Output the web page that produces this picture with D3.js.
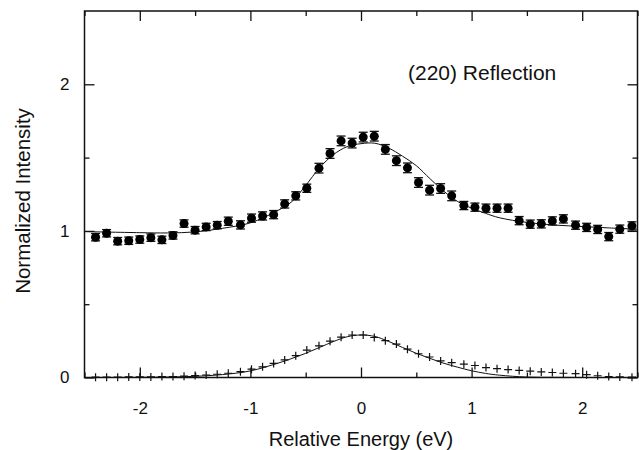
<!DOCTYPE html>
<html>
<head>
<meta charset="utf-8">
<script src="https://cdn.jsdelivr.net/npm/d3@7"></script>
<style>
  body { margin: 0; background: #fff; }
  text { font-family: "Liberation Sans", Arial, Helvetica, sans-serif; fill: #111; }
</style>
</head>
<body>
<svg id="graph"></svg>
<script>
var svg = d3.select("#graph");
var width = 639;
var height = 450;
svg.attr("width", width).attr("height", height);

// measured spectrum (filled circles), relative energy in eV
var energy = [-2.40, -2.30, -2.20, -2.10, -2.00, -1.90, -1.80, -1.70, -1.60, -1.50,
  -1.40, -1.30, -1.20, -1.09, -0.99, -0.89, -0.79, -0.69, -0.59, -0.49,
  -0.38, -0.28, -0.18, -0.08, 0.02, 0.12, 0.22, 0.32, 0.42, 0.52,
  0.62, 0.72, 0.82, 0.93, 1.03, 1.13, 1.23, 1.33, 1.43, 1.53,
  1.63, 1.73, 1.83, 1.94, 2.04, 2.14, 2.24, 2.34, 2.45];
var intensity = [0.957, 0.984, 0.930, 0.933, 0.941, 0.954, 0.939, 0.969, 1.050, 1.005,
  1.027, 1.039, 1.066, 1.041, 1.087, 1.102, 1.111, 1.184, 1.239, 1.291,
  1.428, 1.528, 1.614, 1.599, 1.640, 1.646, 1.556, 1.479, 1.430, 1.330,
  1.278, 1.289, 1.239, 1.173, 1.162, 1.155, 1.155, 1.155, 1.070, 1.046,
  1.048, 1.068, 1.082, 1.039, 1.024, 1.010, 0.961, 1.012, 1.034];
var errors = [0.025, 0.025, 0.025, 0.025, 0.025, 0.025, 0.025, 0.025, 0.025, 0.025,
  0.025, 0.025, 0.028, 0.028, 0.028, 0.028, 0.028, 0.028, 0.028, 0.028,
  0.033, 0.033, 0.033, 0.033, 0.033, 0.033, 0.033, 0.033, 0.033, 0.033,
  0.033, 0.033, 0.033, 0.028, 0.028, 0.028, 0.028, 0.028, 0.028, 0.028,
  0.028, 0.028, 0.028, 0.028, 0.028, 0.028, 0.028, 0.028, 0.028];
// lower trace (crosses)
var lower = [0.002, 0.002, 0.002, 0.004, 0.004, 0.004, 0.006, 0.006, 0.009, 0.013,
  0.017, 0.022, 0.029, 0.040, 0.057, 0.073, 0.096, 0.120, 0.149, 0.187,
  0.216, 0.248, 0.275, 0.290, 0.290, 0.273, 0.251, 0.228, 0.193, 0.162,
  0.140, 0.113, 0.101, 0.091, 0.082, 0.068, 0.060, 0.054, 0.048, 0.043,
  0.038, 0.034, 0.029, 0.026, 0.019, 0.012, 0.006, 0.004, 0.002];

// fit curves
var fitEnergy = [-2.5, -2.0, -1.75, -1.5, -1.25, -1.0, -0.75, -0.625, -0.5, -0.375,
  -0.25, -0.125, 0, 0.125, 0.25, 0.375, 0.5, 0.625, 0.75, 0.875,
  1.0, 1.125, 1.25, 1.5, 1.75, 2.0, 2.25, 2.5];
var fitUpper = [0.995, 0.988, 0.986, 0.993, 1.018, 1.055, 1.14, 1.20, 1.31, 1.43,
  1.52, 1.575, 1.595, 1.598, 1.565, 1.51, 1.445, 1.355, 1.27, 1.20,
  1.155, 1.12, 1.09, 1.058, 1.04, 1.03, 1.02, 1.012];
var fitLower = [0, 0.001, 0.003, 0.008, 0.02, 0.045, 0.098, 0.13, 0.165, 0.205,
  0.245, 0.278, 0.29, 0.28, 0.246, 0.205, 0.165, 0.13, 0.097, 0.07,
  0.046, 0.028, 0.016, 0.003, 0.001, 0, 0, 0];

var xTicks = [-2, -1, 0, 1, 2];
var xMinor = [-2.5, -1.5, -0.5, 0.5, 1.5, 2.5];
var yTicks = [0, 1, 2];
var yMinor = [0.5, 1.5];

// plot box (window.top is taken, so use own names)
var pLeft = 84.5, pRight = 637.5, pTop = 11, pBottom = 377.5;

var x = d3.scaleLinear().domain([-2.5, 2.5]).range([pLeft, pRight]);
var y = d3.scaleLinear().domain([0, 2.5]).range([pBottom, pTop]);

var plain = function(d) { return String(d); };

function styleAxis(g) {
  g.select(".domain").remove();
  g.selectAll("line").attr("stroke", "#111").attr("stroke-width", 1.3);
  g.selectAll("text").style("font-size", "17px").attr("fill", "#111");
}

// major and minor ticks on all four sides, pointing inward
svg.append("g").attr("transform", "translate(0," + pBottom + ")")
  .call(d3.axisBottom(x).tickValues(xTicks).tickFormat(plain).tickSizeInner(-10).tickSizeOuter(0).tickPadding(24))
  .call(styleAxis);
svg.append("g").attr("transform", "translate(0," + pBottom + ")")
  .call(d3.axisBottom(x).tickValues(xMinor).tickFormat("").tickSizeInner(-5).tickSizeOuter(0))
  .call(styleAxis);
svg.append("g").attr("transform", "translate(0," + pTop + ")")
  .call(d3.axisTop(x).tickValues(xTicks).tickFormat("").tickSizeInner(-10).tickSizeOuter(0))
  .call(styleAxis);
svg.append("g").attr("transform", "translate(0," + pTop + ")")
  .call(d3.axisTop(x).tickValues(xMinor).tickFormat("").tickSizeInner(-5).tickSizeOuter(0))
  .call(styleAxis);
svg.append("g").attr("transform", "translate(" + pLeft + ",0)")
  .call(d3.axisLeft(y).tickValues(yTicks).tickFormat(plain).tickSizeInner(-10).tickSizeOuter(0).tickPadding(15))
  .call(styleAxis);
svg.append("g").attr("transform", "translate(" + pLeft + ",0)")
  .call(d3.axisLeft(y).tickValues(yMinor).tickFormat("").tickSizeInner(-5).tickSizeOuter(0))
  .call(styleAxis);
svg.append("g").attr("transform", "translate(" + pRight + ",0)")
  .call(d3.axisRight(y).tickValues(yTicks).tickFormat("").tickSizeInner(-10).tickSizeOuter(0))
  .call(styleAxis);
svg.append("g").attr("transform", "translate(" + pRight + ",0)")
  .call(d3.axisRight(y).tickValues(yMinor).tickFormat("").tickSizeInner(-5).tickSizeOuter(0))
  .call(styleAxis);

svg.append("rect")
  .attr("x", pLeft).attr("y", pTop)
  .attr("width", pRight - pLeft).attr("height", pBottom - pTop)
  .attr("fill", "none").attr("stroke", "#111").attr("stroke-width", 1.5);

// fitted curves
var line = d3.line()
  .x(function(d, i) { return x(fitEnergy[i]); })
  .y(function(d) { return y(d); })
  .curve(d3.curveCatmullRom);

svg.append("path").datum(fitUpper).attr("d", line)
  .attr("fill", "none").attr("stroke", "#111").attr("stroke-width", 1);
svg.append("path").datum(fitLower).attr("d", line)
  .attr("fill", "none").attr("stroke", "#111").attr("stroke-width", 1);

// error bars + circles
var pts = svg.append("g").selectAll("g").data(energy).enter().append("g");
pts.append("line")
  .attr("x1", function(d) { return x(d); }).attr("x2", function(d) { return x(d); })
  .attr("y1", function(d, i) { return y(intensity[i] - errors[i]); })
  .attr("y2", function(d, i) { return y(intensity[i] + errors[i]); })
  .attr("stroke", "#111").attr("stroke-width", 1.3);
pts.append("line")
  .attr("x1", function(d) { return x(d) - 4.5; }).attr("x2", function(d) { return x(d) + 4.5; })
  .attr("y1", function(d, i) { return y(intensity[i] + errors[i]); })
  .attr("y2", function(d, i) { return y(intensity[i] + errors[i]); })
  .attr("stroke", "#111").attr("stroke-width", 1.3);
pts.append("line")
  .attr("x1", function(d) { return x(d) - 4.5; }).attr("x2", function(d) { return x(d) + 4.5; })
  .attr("y1", function(d, i) { return y(intensity[i] - errors[i]); })
  .attr("y2", function(d, i) { return y(intensity[i] - errors[i]); })
  .attr("stroke", "#111").attr("stroke-width", 1.3);
pts.append("circle")
  .attr("cx", function(d) { return x(d); })
  .attr("cy", function(d, i) { return y(intensity[i]); })
  .attr("r", 4.5).attr("fill", "#000");

// crosses
svg.append("g").selectAll("path").data(energy).enter().append("path")
  .attr("d", "M-4,0H4M0,-4V4")
  .attr("transform", function(d, i) { return "translate(" + x(d) + "," + y(lower[i]) + ")"; })
  .attr("stroke", "#111").attr("stroke-width", 1.2).attr("fill", "none");

svg.append("text")
  .attr("x", 408).attr("y", 80)
  .style("font-size", "21px")
  .text("(220) Reflection");

svg.append("text")
  .attr("x", (pLeft + pRight) / 2).attr("y", 446)
  .attr("text-anchor", "middle")
  .style("font-size", "20px")
  .text("Relative Energy (eV)");

svg.append("text")
  .attr("transform", "translate(30,201) rotate(-90)")
  .attr("text-anchor", "middle")
  .style("font-size", "20.5px")
  .text("Normalized Intensity");
</script>
</body>
</html>
